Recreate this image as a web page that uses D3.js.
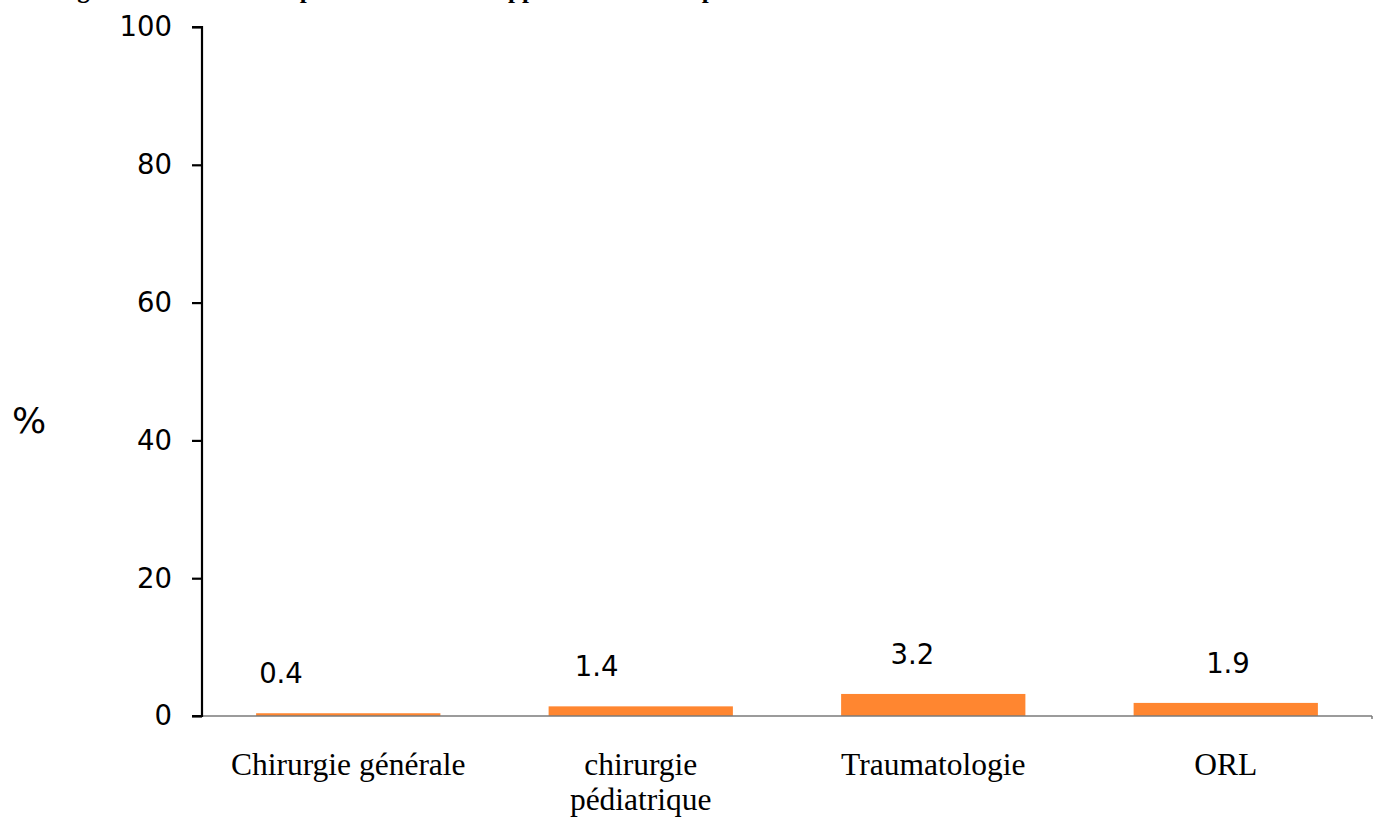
<!DOCTYPE html>
<html>
<head>
<meta charset="utf-8">
<script src="https://cdn.jsdelivr.net/npm/d3@7/dist/d3.min.js"></script>
<style>
  html, body { margin: 0; padding: 0; background: #fff; overflow: hidden; }
  svg { display: block; }
  .num { font-family: "DejaVu Sans", Verdana, sans-serif; }
  .cat { font-family: "Liberation Serif", "Times New Roman", serif; }
</style>
</head>
<body>
<svg id="chart" width="1381" height="818"></svg>
<script>
// Complication rate (%) by surgical specialty
const categories = ["Chirurgie générale", "chirurgie\npédiatrique", "Traumatologie", "ORL"];
const values = [0.4, 1.4, 3.2, 1.9];
const yTicks = [0, 20, 40, 60, 80, 100];
const titleText = "Figure 8 : Taux de complications totales rapportées selon la spécialité";

const svg = d3.select("#chart");
const plot = { left: 202, right: 1372, top: 27, bottom: 716 };

const x = d3.scaleBand()
  .domain(categories)
  .range([plot.left, plot.right])
  .paddingInner(0.37)
  .paddingOuter(0.185);

const y = d3.scaleLinear().domain([0, 100]).range([plot.bottom, plot.top]);

// value labels sit on their own staggered track above the bars
const labelX = d3.scalePoint().domain(categories).range([281, 1228]);

// title (runs off the top edge of the page)
svg.append("text")
  .attr("x", 55).attr("y", -2)
  .attr("font-family", "Liberation Serif, Times New Roman, serif")
  .attr("font-weight", "bold")
  .attr("font-size", 25)
  .attr("fill", "#000")
  .text(titleText);

// bars
svg.append("g").selectAll("rect")
  .data(values)
  .join("rect")
  .attr("x", (d, i) => x(categories[i]))
  .attr("width", x.bandwidth())
  .attr("y", d => y(d))
  .attr("height", d => y(0) - y(d))
  .attr("fill", "#FF8630");

// horizontal baseline
svg.append("line")
  .attr("x1", plot.left).attr("x2", plot.right)
  .attr("y1", y(0)).attr("y2", y(0))
  .attr("stroke", "#7a7a7a").attr("stroke-width", 1.5);
svg.append("line")
  .attr("x1", plot.right).attr("x2", plot.right)
  .attr("y1", y(0)).attr("y2", y(0) + 3)
  .attr("stroke", "#7a7a7a").attr("stroke-width", 1.5);

// y axis
const yAxis = d3.axisLeft(y).tickValues(yTicks).tickSize(10).tickPadding(20);
const gy = svg.append("g")
  .attr("transform", `translate(${plot.left},0)`)
  .call(yAxis);
gy.select(".domain").attr("stroke", "#000").attr("stroke-width", 2.2)
  .attr("d", `M-10,${y(100)}H0V${y(0)}H-10`);
gy.selectAll(".tick line").attr("stroke", "#000").attr("stroke-width", 2.2);
gy.selectAll(".tick text")
  .attr("class", "num")
  .attr("font-size", 27.5)
  .attr("fill", "#000");

// y axis title
svg.append("text")
  .attr("class", "num")
  .attr("x", 29).attr("y", 420)
  .attr("text-anchor", "middle")
  .attr("dominant-baseline", "central")
  .attr("font-size", 36)
  .attr("fill", "#000")
  .text("%");

// value labels
svg.append("g").selectAll("text")
  .data(values)
  .join("text")
  .attr("class", "num")
  .attr("x", (d, i) => labelX(categories[i]))
  .attr("y", d => y(d) - 40)
  .attr("text-anchor", "middle")
  .attr("dominant-baseline", "central")
  .attr("font-size", 27.5)
  .attr("fill", "#000")
  .text(d => d.toFixed(1));

// category labels
const cats = svg.append("g").selectAll("text")
  .data(categories)
  .join("text")
  .attr("class", "cat")
  .attr("x", d => x(d) + x.bandwidth() / 2)
  .attr("y", 775)
  .attr("text-anchor", "middle")
  .attr("font-size", 31.5)
  .attr("fill", "#000");
cats.each(function(d) {
  const lines = d.split("\n");
  d3.select(this).selectAll("tspan")
    .data(lines)
    .join("tspan")
    .attr("x", x(d) + x.bandwidth() / 2)
    .attr("dy", (l, i) => i === 0 ? 0 : 35)
    .text(l => l);
});
</script>
</body>
</html>
